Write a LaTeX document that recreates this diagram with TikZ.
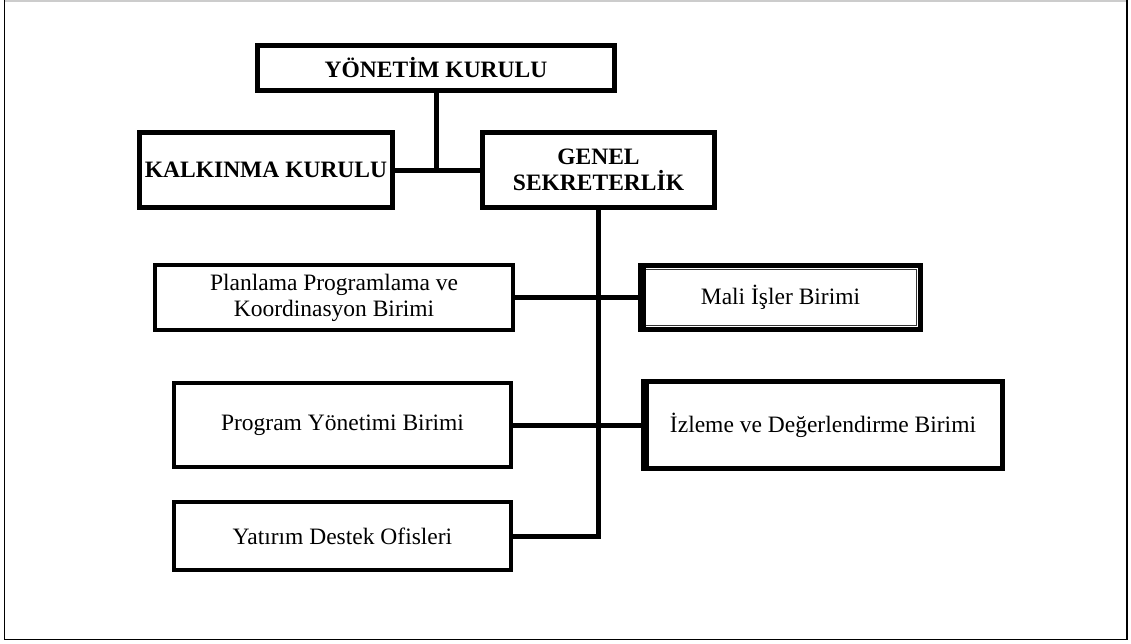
\documentclass[tikz,border=0pt]{standalone}
\usepackage{fontspec}
\setmainfont{Liberation Serif}
\begin{document}
\begin{tikzpicture}[x=1pt,y=-1pt,
        unit/.style={draw,line width=4pt,align=center,inner sep=0pt,font=\fontsize{23.5}{26}\selectfont},
        board/.style={unit,line width=5pt,font=\fontsize{23.5}{26}\selectfont\bfseries},
        office/.style={unit,line width=5pt},
        link/.style={line width=5pt}]
                \useasboundingbox (0,0) rectangle (1131,643);
                \draw[gray!40,line width=1.5pt](4,0.75)--(1127,0.75);
                \draw[line width=1.5pt](4.5,0)--(4.5,639.5)--(1127,639.5)--(1127,0);

                \node[board,minimum width=357pt,minimum height=45pt] (yon) at(436,68) {YÖNETİM KURULU};
                \node[board,minimum width=253pt,minimum height=75pt] (kalk) at(266,170) {KALKINMA KURULU};
                \node[board,minimum width=232pt,minimum height=75pt] (genel) at(598.5,170) {GENEL\\SEKRETERLİK};

                \node[unit,minimum width=358pt,minimum height=65pt] (plan) at(334,297.5) {Planlama Programlama ve\\Koordinasyon Birimi};
                \node[unit,minimum width=337pt,minimum height=84pt] (prog) at(342.5,425) {Program Yönetimi Birimi};
                \node[unit,minimum width=337pt,minimum height=68pt] (yat) at(342.5,536) {Yatırım Destek Ofisleri};

                \node[office,minimum width=280pt,minimum height=64pt] (mali) at(780.5,297.5) {Mali İşler Birimi};
                \node[office,minimum width=359pt,minimum height=87pt] (izle) at(823,425) {İzleme ve Değerlendirme Birimi};

                \draw[line width=0.9pt,black!80]([shift={(6.3,6.3)}]mali.north west) rectangle ([shift={(-6.3,-6.3)}]mali.south east);
                \draw[line width=4pt]([xshift=6]mali.north west)--([xshift=6]mali.south west);
                \draw[line width=4pt]([xshift=6]izle.north west)--([xshift=6]izle.south west);

                \draw[link](kalk.east)--(genel.west);
                \draw[link](yon.south)--(yon.south |- kalk.east);
                \draw[link](genel.south) |- (yat.east);
                \draw[link](plan.east)--(mali.west);
                \draw[link](prog.east)--(izle.west);
            \end{tikzpicture}
\end{document}
